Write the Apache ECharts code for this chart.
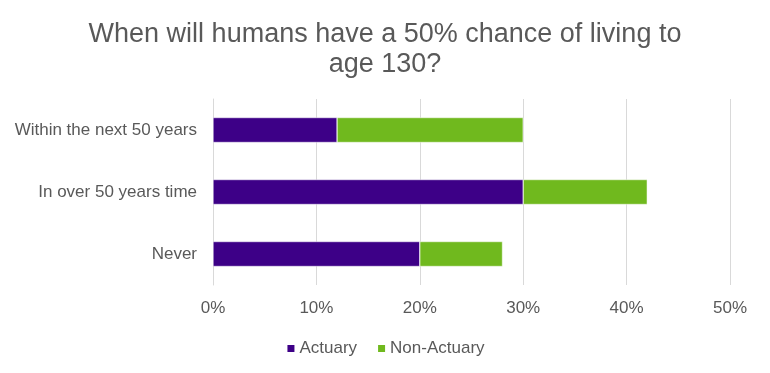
<!DOCTYPE html>
<html><head><meta charset="utf-8">
<script src="https://cdn.jsdelivr.net/npm/echarts@6/dist/echarts.min.js"></script>
<style>html,body{margin:0;padding:0;background:#fff}#c{width:770px;height:373px}</style>
</head><body><div id="c"></div>
<script>
const categories = ['Within the next 50 years', 'In over 50 years time', 'Never'];
const actuary = [12, 30, 20];
const nonActuary = [18, 12, 8];
const xTicks = [0, 10, 20, 30, 40, 50];

const chart = echarts.init(document.getElementById('c'));
chart.setOption({
  animation: false,
  title: {
    text: 'When will humans have a 50% chance of living to\nage 130?',
    left: 'center', top: 15,
    textStyle: {fontFamily: 'Liberation Sans', fontSize: 27, fontWeight: 'normal', color: '#595959', lineHeight: 30}
  },
  legend: {
    top: 335, left: 'center',
    itemWidth: 9, itemHeight: 9, itemGap: 19,
    icon: 'rect',
    textStyle: {fontFamily: 'Liberation Sans', fontSize: 17, color: '#595959', padding: [0,0,0,-1]},
    data: ['Actuary', 'Non-Actuary']
  },
  grid: {left: 213, right: 40, top: 99, bottom: 88, containLabel: false},
  xAxis: {
    type: 'value', min: 0, max: 50, interval: 10,
    axisLabel: {formatter: v => v + '%', fontFamily: 'Liberation Sans', fontSize: 17, color: '#595959', margin: 15},
    splitLine: {lineStyle: {color: '#d9d9d9', width: 1}},
    axisLine: {show: false}, axisTick: {show: false}
  },
  yAxis: {
    type: 'category', inverse: true, data: categories,
    axisLabel: {fontFamily: 'Liberation Sans', fontSize: 17, color: '#595959', margin: 16},
    axisLine: {show: true, lineStyle: {color: '#d9d9d9'}}, axisTick: {show: false}
  },
  series: [
    {name: 'Actuary', type: 'bar', stack: 't', data: actuary, barWidth: 25,
     itemStyle: {color: '#3D0087', borderColor: '#ffffff', borderWidth: 0.5}},
    {name: 'Non-Actuary', type: 'bar', stack: 't', data: nonActuary, barWidth: 25,
     itemStyle: {color: '#70B91E', borderColor: '#ffffff', borderWidth: 0.5}}
  ]
});
</script></body></html>
